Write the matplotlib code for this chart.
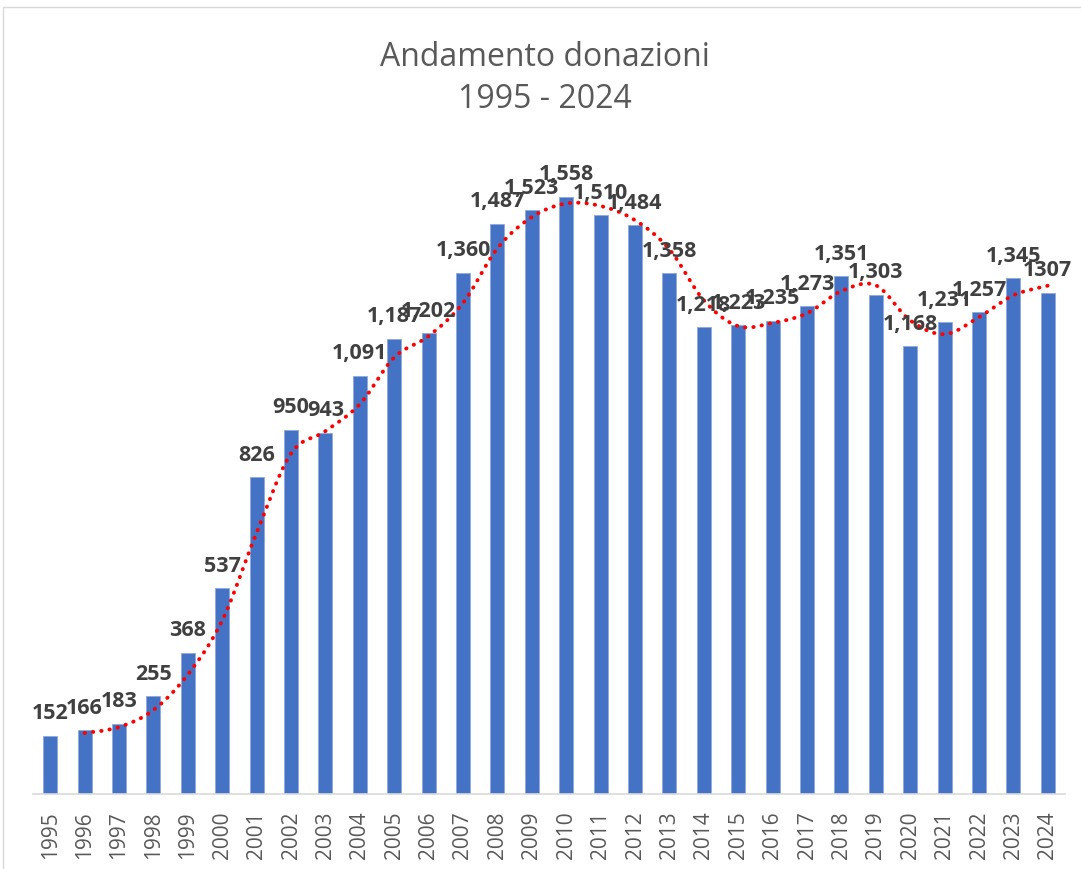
import numpy as np
import matplotlib.pyplot as plt
from matplotlib.patches import Rectangle

# data
years = [str(y) for y in range(1995, 2025)]
donazioni = [152, 166, 183, 255, 368, 537, 826, 950, 943, 1091,
             1187, 1202, 1360, 1487, 1523, 1558, 1510, 1484, 1358, 1218,
             1223, 1235, 1273, 1351, 1303, 1168, 1231, 1257, 1345, 1307]
etichette = ['152', '166', '183', '255', '368', '537', '826', '950', '943', '1,091',
             '1,187', '1,202', '1,360', '1,487', '1,523', '1,558', '1,510', '1,484', '1,358', '1,218',
             '1,223', '1,235', '1,273', '1,351', '1,303', '1,168', '1,231', '1,257', '1,345', '1307']


def catmull_rom(xs, ys, n=20):
    '''smooth curve through the points (like the Excel smoothed line)'''
    px = [xs[0]] + list(xs) + [xs[-1]]
    py = [ys[0]] + list(ys) + [ys[-1]]
    outx, outy = [], []
    t = np.linspace(0, 1, n, endpoint=False)
    for i in range(1, len(px) - 2):
        for arr, out in ((px, outx), (py, outy)):
            p0, p1, p2, p3 = arr[i - 1], arr[i], arr[i + 1], arr[i + 2]
            out.extend(0.5 * (2 * p1 + (-p0 + p2) * t + (2 * p0 - 5 * p1 + 4 * p2 - p3) * t ** 2
                              + (-p0 + 3 * p1 - 3 * p2 + p3) * t ** 3))
    outx.append(xs[-1])
    outy.append(ys[-1])
    return np.array(outx), np.array(outy)


fig = plt.figure(figsize=(10.81, 8.70), dpi=100)
fig.patches.append(Rectangle((3 / 1081, -0.01), 1.02, 0.9998 - 8 / 870 + 0.01,
                             transform=fig.transFigure, fill=False,
                             edgecolor='#d9d9d9', linewidth=1))

ax = fig.add_axes([33 / 1081, 75 / 870, 1032 / 1081, 690 / 870])
x = np.arange(len(years))
ax.bar(x, donazioni, width=0.41, color='#4472c4', edgecolor='#8faadc',
       linewidth=0.6, zorder=2)

# moving average trendline (period 2)
val = np.array(donazioni, dtype=float)
media = (val[1:] + val[:-1]) / 2
sx, sy = catmull_rom(x[1:], media)
ax.plot(sx, sy, color='#ff0000', linestyle=(0, (0.1, 2.05)), linewidth=2.8,
        dash_capstyle='round', zorder=3)

for xi, v, lab in zip(x, donazioni, etichette):
    ax.annotate(lab, (xi, v), xytext=(0, 9), textcoords='offset points',
                ha='center', va='bottom', fontsize=15.5, fontweight='bold',
                color='#404040', family='Open Sans', zorder=4)

ax.set_xlim(-0.5, len(years) - 0.5)
ax.set_ylim(0, 1800)
ax.set_xticks(x)
ax.set_xticklabels(years, rotation=90, fontsize=15, color='#595959', family='Open Sans')
ax.tick_params(axis='x', length=0, pad=12)
ax.set_yticks([])
for s in ['top', 'right', 'left']:
    ax.spines[s].set_visible(False)
ax.spines['bottom'].set_color('#d9d9d9')
ax.spines['bottom'].set_linewidth(1.2)

fig.text(0.504, 1 - 57 / 870, 'Andamento donazioni', ha='center', va='center',
         fontsize=23, color='#595959', family='Open Sans')
fig.text(0.504, 1 - 100 / 870, '1995 - 2024', ha='center', va='center',
         fontsize=23, color='#595959', family='Open Sans')

plt.savefig('out.png', dpi=100)
